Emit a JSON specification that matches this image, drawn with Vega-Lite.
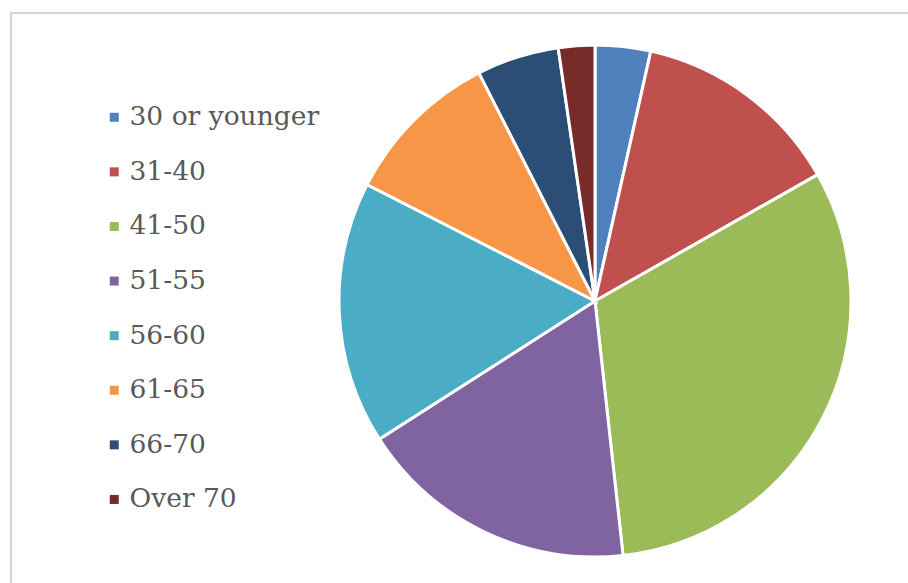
{
  "$schema": "https://vega.github.io/schema/vega-lite/v6.json",
  "autosize": {"type": "none"},
  "padding": {"left": 11, "top": 13, "right": 0, "bottom": 0},
  "width": 1168,
  "height": 576,
  "background": "white",
  "view": {"stroke": "#d4d4d4", "strokeWidth": 2, "fill": "white"},
  "data": {
    "values": [
      {"age": "30 or younger", "share": 3.5, "order": 1},
      {"age": "31-40", "share": 13.3, "order": 2},
      {"age": "41-50", "share": 31.5, "order": 3},
      {"age": "51-55", "share": 17.7, "order": 4},
      {"age": "56-60", "share": 16.6, "order": 5},
      {"age": "61-65", "share": 10.0, "order": 6},
      {"age": "66-70", "share": 5.2, "order": 7},
      {"age": "Over 70", "share": 2.3, "order": 8}
    ]
  },
  "mark": {"type": "arc", "outerRadius": 256, "stroke": "white", "strokeWidth": 3},
  "encoding": {
    "theta": {"field": "share", "type": "quantitative", "stack": true},
    "order": {"field": "order", "type": "quantitative"},
    "color": {
      "field": "age",
      "type": "nominal",
      "scale": {
        "domain": ["30 or younger", "31-40", "41-50", "51-55", "56-60", "61-65", "66-70", "Over 70"],
        "range": ["#4F81BD", "#C0504D", "#9BBB59", "#8064A2", "#4BACC6", "#F79646", "#2C4D75", "#772C2A"]
      },
      "legend": {
        "title": null,
        "orient": "none",
        "legendX": 90,
        "legendY": 91,
        "padding": 0,
        "symbolType": "square",
        "symbolSize": 81,
        "symbolStrokeWidth": 0,
        "labelFont": "DejaVu Serif",
        "labelFontSize": 26.5,
        "labelColor": "#595959",
        "labelOffset": 2,
        "rowPadding": 27.6,
        "labelLimit": 400
      }
    }
  }
}
